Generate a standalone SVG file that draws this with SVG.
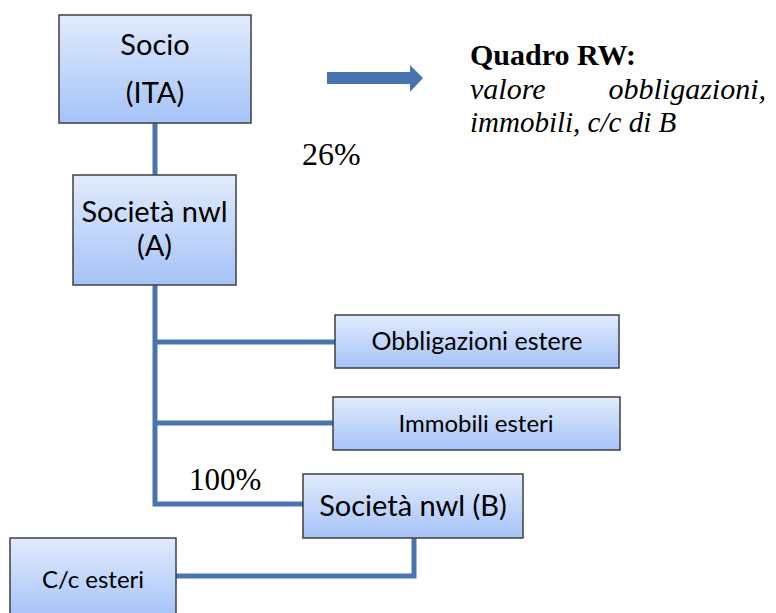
<svg xmlns="http://www.w3.org/2000/svg" width="776" height="613" viewBox="0 0 776 613">
<defs>
<linearGradient id="g" x1="0" y1="0" x2="0" y2="1">
<stop offset="0" stop-color="#e1ebfc"/>
<stop offset="1" stop-color="#a5c3f7"/>
</linearGradient>
<style>
.box{fill:url(#g);stroke:#3f3f3f;stroke-width:1.5}
.t{font-family:Lato,"Open Sans",sans-serif;fill:#000;text-anchor:middle}
.c{fill:none;stroke:#4a74ae;stroke-width:5}
.tm{font-family:"Liberation Serif",serif;fill:#000}
</style>
</defs>
<rect width="776" height="613" fill="#fff"/>
<g id="connectors">
<line class="c" x1="155" y1="123" x2="155" y2="175"/>
<polyline class="c" points="155,285 155,504 303,504"/>
<line class="c" x1="155" y1="342" x2="335" y2="342"/>
<line class="c" x1="155" y1="423" x2="333" y2="423"/>
<polyline class="c" points="414,538 414,576 176,576"/>
<polygon fill="#4a74ae" points="327,72 410,72 410,65 423,78 410,92 410,84 327,84"/>
</g>
<g id="socio">
<rect class="box" x="59" y="15" width="192" height="108"/>
<text class="t" x="155" y="55" font-size="29">Socio</text>
<text class="t" x="155" y="103" font-size="29">(ITA)</text>
</g>
<g id="societaA">
<rect class="box" x="73" y="175" width="163" height="110"/>
<text class="t" x="154.5" y="222" font-size="29">Società nwl</text>
<text class="t" x="154.5" y="256" font-size="29">(A)</text>
</g>
<g id="obbligazioni">
<rect class="box" x="335" y="315" width="284" height="53"/>
<text class="t" x="477" y="350" font-size="25">Obbligazioni estere</text>
</g>
<g id="immobili">
<rect class="box" x="333" y="397" width="287" height="53"/>
<text class="t" x="476" y="432" font-size="24">Immobili esteri</text>
</g>
<g id="societaB">
<rect class="box" x="303" y="474" width="220" height="64"/>
<text class="t" x="413" y="516" font-size="29">Società nwl (B)</text>
</g>
<g id="cc">
<rect class="box" x="10" y="538" width="166" height="80"/>
<text class="t" x="93" y="588" font-size="24">C/c esteri</text>
</g>
<g id="labels">
<text class="tm" x="302" y="165" font-size="32">26%</text>
<text class="tm" x="189" y="490" font-size="31">100%</text>
<text class="tm" x="470" y="65" font-size="30" font-weight="bold">Quadro RW:</text>
<text class="tm" x="470" y="99" font-size="30" font-style="italic">valore</text>
<text class="tm" x="766" y="99" font-size="30" font-style="italic" text-anchor="end">obbligazioni,</text>
<text class="tm" x="470" y="132" font-size="29">
<tspan font-style="italic">immobili, c/c di B</tspan></text>
</g>
</svg>
